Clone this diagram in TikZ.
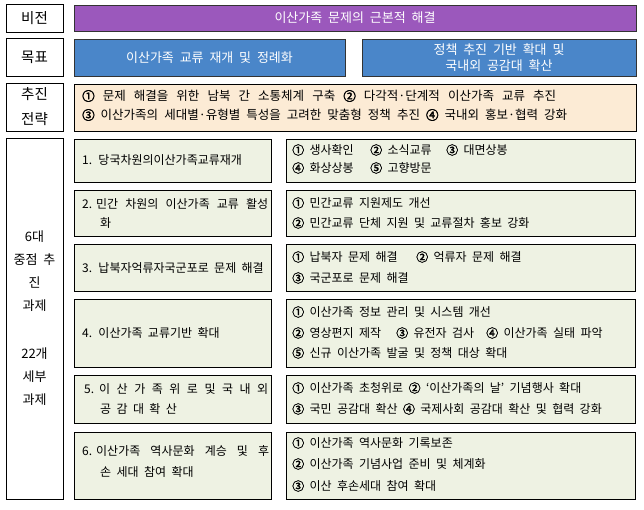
\documentclass[tikz,border=0pt]{standalone}
\usepackage{fontspec}
\newfontfamily\kr[WordSpace=2]{Noto Sans CJK KR}
\newfontfamily\krb[FakeBold=2.5]{Noto Sans CJK KR}
\definecolor{vispurple}{HTML}{9B58BC}
\definecolor{goalblue}{HTML}{4A86C9}
\definecolor{stratpeach}{HTML}{FCEBD5}
\definecolor{taskfill}{HTML}{EEF2E3}
\newcommand\mybox[7]{%
  \pgfmathsetmacro\bw{#5-#3}\pgfmathsetmacro\bh{#6-#4}%
  \node[#2, minimum width=\bw pt, minimum height=\bh pt] (#1) at ({(#3+#5)/2},{(#4+#6)/2}) {#7};}
\newcommand\cn[1]{{\krb #1}}
\begin{document}
\begin{tikzpicture}[x=1pt,y=-1pt,
  every node/.style={font=\kr},
  lab/.style={draw=black, line width=0.8pt, fill=white, inner sep=0pt, align=center, font=\kr\fontsize{14.5}{25}\selectfont},
  bigl/.style={draw=black, line width=0.8pt, fill=white, inner sep=0pt},
  visbox/.style={draw=black!80, line width=0.6pt, fill=vispurple, inner sep=0pt, text=white, align=center, font=\kr\fontsize{13}{16}\selectfont},
  goalbox/.style={draw=black!80, line width=0.6pt, fill=goalblue, inner sep=0pt, text=white, align=center, font=\kr\fontsize{13}{16}\selectfont},
  stratbox/.style={draw=black, line width=0.8pt, fill=stratpeach, inner sep=0pt},
  taskbox/.style={draw=black, line width=0.8pt, fill=taskfill, inner sep=0pt},
  txt/.style={anchor=west, inner sep=0pt, font=\kr\fontsize{12}{14}\selectfont},
  stxt/.style={anchor=west, inner sep=0pt, font=\kr\fontsize{12.5}{14}\selectfont},
  ctxt/.style={inner sep=0pt, font=\kr\fontsize{13}{14}\selectfont}
]
\useasboundingbox (0,0) rectangle (644,509);
\fill[white] (0,0) rectangle (644,509);

% vision
\mybox{lvis}{lab}{6}{4}{63}{32}{비전}
\mybox{vis}{visbox}{74}{5}{636}{31}{이산가족 문제의 근본적 해결}
% goals
\mybox{lgoal}{lab}{6}{38}{63}{76}{목표}
\mybox{goalA}{goalbox}{74}{39}{345}{76}{이산가족 교류 재개 및 정례화}
\mybox{goalB}{goalbox}{362}{39}{636}{76}{정책 추진 기반 확대 및\\국내외 공감대 확산}
% strategy
\mybox{lstrat}{lab}{6}{83}{63}{131}{추진\\전략}
\mybox{strat}{stratbox}{74}{84}{636}{131}{}
\node[stxt] (s1) at (82,96) {\makebox[474pt][s]{\cn{①} 문제 해결을 위한 남북 간 소통체계 구축 \cn{②} 다각적·단계적 이산가족 교류 추진}};
\node[stxt] (s2) at (82,115) {\makebox[485pt][s]{\cn{③} 이산가족의 세대별·유형별 특성을 고려한 맞춤형 정책 추진 \cn{④} 국내외 홍보·협력 강화}};

% big label
\mybox{ltask}{bigl}{6}{138}{63}{499}{}
\node[ctxt] (k1) at (34.5,237) {6대};
\node[ctxt] (k2) at (34.5,260) {중점 추};
\node[ctxt] (k3) at (34.5,283) {진};
\node[ctxt] (k4) at (34.5,306) {과제};
\node[ctxt] (k5) at (34.5,354) {22개};
\node[ctxt] (k6) at (34.5,377) {세부};
\node[ctxt] (k7) at (34.5,400) {과제};

% task rows
\mybox{t1}{taskbox}{74}{139}{271}{182}{}
\mybox{d1}{taskbox}{286}{139}{635}{182}{}
\mybox{t2}{taskbox}{74}{190}{271}{236}{}
\mybox{d2}{taskbox}{286}{190}{635}{236}{}
\mybox{t3}{taskbox}{74}{244}{271}{291}{}
\mybox{d3}{taskbox}{286}{244}{635}{291}{}
\mybox{t4}{taskbox}{74}{299}{271}{367}{}
\mybox{d4}{taskbox}{286}{299}{635}{367}{}
\mybox{t5}{taskbox}{74}{375}{271}{423}{}
\mybox{d5}{taskbox}{286}{375}{635}{423}{}
\mybox{t6}{taskbox}{74}{432}{271}{499}{}
\mybox{d6}{taskbox}{286}{432}{635}{499}{}

% left texts
\node[txt] (tt1) at (82,160) {1. 당국차원의이산가족교류재개};
\node[txt] (tt2a) at (82,204) {\makebox[186pt][s]{2.\hspace{4pt}민간 차원의 이산가족 교류 활성}};
\node[txt] (tt2b) at (100,223) {화};
\node[txt] (tt3) at (82,268) {3. 납북자억류자국군포로 문제 해결};
\node[txt] (tt4) at (82,333) {4. 이산가족 교류기반 확대};
\node[txt] (tt5a) at (84,389) {\makebox[184pt][s]{5.\hspace{5pt}이 산 가 족  위 로  및  국 내 외}};
\node[txt] (tt5b) at (100,409) {공 감 대  확 산};
\node[txt] (tt6a) at (82,451) {\makebox[187pt][s]{6.\hspace{4pt}이산가족 역사문화 계승 및 후}};
\node[txt] (tt6b) at (100,472) {손 세대 참여 확대};

% right texts
\node[txt] (a11) at (292,150) {\cn{①} 생사확인};
\node[txt] (a12) at (370,150) {\cn{②} 소식교류};
\node[txt] (a13) at (446,150) {\cn{③} 대면상봉};
\node[txt] (a14) at (292,168) {\cn{④} 화상상봉};
\node[txt] (a15) at (370,168) {\cn{⑤} 고향방문};

\node[txt] (a21) at (292,203) {\cn{①} 민간교류 지원제도 개선};
\node[txt] (a22) at (292,223) {\cn{②} 민간교류 단체 지원 및 교류절차 홍보 강화};

\node[txt] (a31) at (292,257) {\cn{①} 납북자 문제 해결};
\node[txt] (a32) at (416,257) {\cn{②} 억류자 문제 해결};
\node[txt] (a33) at (292,278) {\cn{③} 국군포로 문제 해결};

\node[txt] (a41) at (292,312) {\cn{①} 이산가족 정보 관리 및 시스템 개선};
\node[txt] (a42) at (292,333) {\cn{②} 영상편지 제작};
\node[txt] (a43) at (396,333) {\cn{③} 유전자 검사};
\node[txt] (a44) at (486,333) {\cn{④} 이산가족 실태 파악};
\node[txt] (a45) at (292,353) {\cn{⑤} 신규 이산가족 발굴 및 정책 대상 확대};

\node[txt] (a51) at (292,388) {\cn{①} 이산가족 초청위로 \cn{②} ‘이산가족의 날’ 기념행사 확대};
\node[txt] (a52) at (292,409) {\cn{③} 국민 공감대 확산 \cn{④} 국제사회 공감대 확산 및 협력 강화};

\node[txt] (a61) at (292,443) {\cn{①} 이산가족 역사문화 기록보존};
\node[txt] (a62) at (292,464) {\cn{②} 이산가족 기념사업 준비 및 체계화};
\node[txt] (a63) at (292,486) {\cn{③} 이산 후손세대 참여 확대};
\end{tikzpicture}
\end{document}
